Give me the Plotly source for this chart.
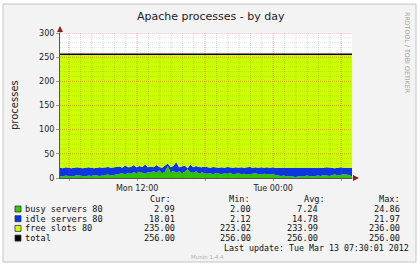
import plotly.graph_objects as go
import pandas as pd

W, H = 420, 266

# ---- data (15-minute samples) ----
start_time = "2012-03-12 05:12"
end_time = "2012-03-13 06:57"
sample_step = "15min"

busy = [4, 3, 5, 4, 3, 4, 6, 5, 4, 3, 5, 4, 6, 5, 4, 5, 6, 7, 5, 6,
        7, 9, 10, 8, 11, 9, 12, 10, 13, 11, 9, 12,
        12, 14, 11, 16, 10, 13, 24.86, 12, 15, 11.01, 14, 10, 13, 18, 12, 11, 14, 9, 12, 10,
        9, 10, 8, 11, 9, 8, 10, 9, 11, 8, 9, 10, 8, 9, 7, 8, 9, 10, 8, 7, 9, 8, 7, 8,
        6, 5, 4, 5, 3, 4, 3, 2, 3, 4, 3, 5, 4, 3, 4, 5, 4, 6, 5, 4, 6, 7, 5, 6, 8, 7, 6, 2.99]
idle = [17, 17, 17, 17, 17, 17, 16, 16, 16, 18, 17, 17, 14, 16, 18, 16, 16, 16, 16, 16,
        15, 15, 11, 18, 11, 14, 15, 12, 12, 12, 19, 10,
        12, 8, 16, 7, 11, 13, 5.14, 11, 10, 21.97, 8, 14, 13, 2.12, 16, 11, 11, 14, 10, 14,
        13, 11, 15, 11, 12, 14, 11, 14, 11, 13, 13, 11, 14, 12, 15, 15, 12, 12, 13, 15, 12, 14, 14, 14,
        15, 16, 16, 16, 17, 17, 17, 19, 18, 16, 18, 16, 16, 18, 17, 15, 17, 15, 17, 17, 15, 13, 16, 16, 13, 14, 16, 18.01]
total_slots = 256

legend_names = ["busy servers 80", "idle servers 80", "free slots 80", "total"]
legend_colors = ["#33cc00", "#0033ff", "#ccff00", "#000000"]
cur_vals = ["2.99", "18.01", "235.00", "256.00"]
min_vals = ["2.00", "2.12", "223.02", "256.00"]
avg_vals = ["7.24", "14.78", "233.99", "256.00"]
max_vals = ["24.86", "21.97", "236.00", "256.00"]
col_headers = ["Cur:", "Min:", "Avg:", "Max:"]
last_update = "Last update: Tue Mar 13 07:30:01 2012"

y_tick_vals = [0, 50, 100, 150, 200, 250, 300]
x_tick_vals = ["2012-03-12 06:00", "2012-03-12 12:00", "2012-03-12 18:00",
               "2012-03-13 00:00", "2012-03-13 06:00"]
x_tick_text = ["", "Mon 12:00", "", "Tue 00:00", ""]

title_text = "Apache processes - by day"
y_title = "processes"
side_text = "RRDTOOL / TOBI OETIKER"
footer_text = "Munin 1.4.4"

# ---- derived ----
times = pd.date_range(start_time, periods=len(busy), freq=sample_step)
free = [total_slots - b - i for b, i in zip(busy, idle)]
total = [total_slots for _ in busy]


def px(x):
    return x / W


def py(y):
    return 1 - y / H


PL, PR, PT, PB = 60, 352, 33, 178
SANS = "DejaVu Sans"
MONO = "DejaVu Sans Mono"

fig = go.Figure()
fig.add_trace(go.Scatter(x=times, y=busy, stackgroup="s", mode="lines",
                         line=dict(width=0, color="#33cc00"),
                         fillcolor="#2fc400", hoverinfo="skip"))
fig.add_trace(go.Scatter(x=times, y=idle, stackgroup="s", mode="lines",
                         line=dict(width=0, color="#0033ff"),
                         fillcolor="#0a36e6", hoverinfo="skip"))
fig.add_trace(go.Scatter(x=times, y=free, stackgroup="s", mode="lines",
                         line=dict(width=0, color="#ccff00"),
                         fillcolor="#ccff00", hoverinfo="skip"))

shapes = [
    # frame
    dict(type="rect", xref="paper", yref="paper", x0=px(3), x1=px(416), y0=py(262), y1=py(4),
         fillcolor="#f3f3f3", line=dict(color="#c4c4c4", width=1), layer="below"),
    # canvas
    dict(type="rect", xref="paper", yref="paper", x0=px(PL), x1=px(PR), y0=py(PB), y1=py(PT),
         fillcolor="#ffffff", line=dict(width=0), layer="below"),
]

# grid drawn over the areas (as rrdtool does)
minor_x = pd.date_range("2012-03-12 06:00", "2012-03-13 06:00", freq="1h")
for t in minor_x:
    major = (t.hour % 6 == 0)
    shapes.append(dict(type="line", xref="x", yref="y", x0=t, x1=t, y0=0, y1=300,
                       line=dict(color="rgba(220,60,60,0.45)" if major else "rgba(80,80,80,0.22)",
                                 width=1, dash="1px,1px"), layer="above"))
for v in range(10, 301, 10):
    major = (v % 50 == 0)
    shapes.append(dict(type="line", xref="paper", yref="y", x0=px(PL), x1=px(PR), y0=v, y1=v,
                       line=dict(color="rgba(220,60,60,0.45)" if major else "rgba(80,80,80,0.13)",
                                 width=1, dash="1px,1px"), layer="above"))

fig.add_trace(go.Scatter(x=times, y=total, mode="lines",
                         line=dict(width=1.4, color="#000000"), hoverinfo="skip"))

annotations = [
    dict(text=title_text, x=px(211), y=py(16), xref="paper", yref="paper",
         showarrow=False, font=dict(family=SANS, size=11, color="#222"),
         xanchor="center", yanchor="middle"),
    dict(text=y_title, x=px(14), y=py(105), xref="paper", yref="paper",
         showarrow=False, textangle=-90, font=dict(family=SANS, size=10, color="#222"),
         xanchor="center", yanchor="middle"),
    dict(text=side_text, x=px(408), y=py(53), xref="paper", yref="paper",
         showarrow=False, textangle=90, font=dict(family=SANS, size=6.3, color="#a0a0a0"),
         xanchor="center", yanchor="middle"),
    dict(text=footer_text, x=px(207), y=py(257), xref="paper", yref="paper",
         showarrow=False, font=dict(family=SANS, size=5.5, color="#b0b0b0"),
         xanchor="center", yanchor="middle"),
    # axis arrows
    dict(text="", x=px(PL), y=py(26), xref="paper", yref="paper", ax=0, ay=8,
         showarrow=True, arrowhead=2, arrowsize=1, arrowwidth=1.2, arrowcolor="#8a2020"),
    dict(text="", x=px(359), y=py(PB), xref="paper", yref="paper", ax=-8, ay=0,
         showarrow=True, arrowhead=2, arrowsize=1, arrowwidth=1.2, arrowcolor="#8a2020"),
    dict(text=last_update, x=px(222), y=py(248), xref="paper", yref="paper",
         showarrow=False, font=dict(family=MONO, size=8.3, color="#111"),
         xanchor="left", yanchor="middle"),
]

header_x = [148, 227, 302, 377]
value_right = [177, 253, 320, 402]
for hx, ht in zip(header_x, col_headers):
    annotations.append(dict(text=ht, x=px(hx), y=py(199), xref="paper", yref="paper",
                            showarrow=False, font=dict(family=MONO, size=8.6, color="#111"),
                            xanchor="left", yanchor="middle"))

row_y = [209, 218.7, 228.4, 238.1]
for k, name in enumerate(legend_names):
    ry = row_y[k]
    shapes.append(dict(type="rect", xref="paper", yref="paper",
                       x0=px(15), x1=px(21), y0=py(ry + 3), y1=py(ry - 3),
                       fillcolor=legend_colors[k], line=dict(color="#333", width=0.8)))
    annotations.append(dict(text=name, x=px(23), y=py(ry), xref="paper", yref="paper",
                            showarrow=False, font=dict(family=MONO, size=8.6, color="#111"),
                            xanchor="left", yanchor="middle"))
    for col, vals in enumerate([cur_vals, min_vals, avg_vals, max_vals]):
        annotations.append(dict(text=vals[k], x=px(value_right[col]), y=py(ry),
                                xref="paper", yref="paper", showarrow=False,
                                font=dict(family=MONO, size=8.6, color="#111"),
                                xanchor="right", yanchor="middle"))

fig.update_layout(
    width=W, height=H,
    margin=dict(l=0, r=0, t=0, b=0),
    paper_bgcolor="#ffffff",
    plot_bgcolor="rgba(0,0,0,0)",
    showlegend=False,
    shapes=shapes,
    annotations=annotations,
    xaxis=dict(
        domain=[px(PL), px(PR)],
        type="date",
        range=[start_time, end_time],
        tickmode="array", tickvals=x_tick_vals, ticktext=x_tick_text,
        tickfont=dict(family=SANS, size=8, color="#222"),
        ticks="outside", ticklen=2, tickcolor="#999",
        showgrid=False,
        showline=True, linecolor="#555", linewidth=1,
        zeroline=False, automargin=False, fixedrange=True,
    ),
    yaxis=dict(
        domain=[py(PB), py(PT)],
        range=[0, 300],
        tickmode="array", tickvals=y_tick_vals,
        tickfont=dict(family=SANS, size=8, color="#222"),
        ticks="outside", ticklen=3, tickcolor="#999",
        showgrid=False,
        showline=True, linecolor="#555", linewidth=1,
        zeroline=False, automargin=False, fixedrange=True,
    ),
)

fig.write_html("out.html")
